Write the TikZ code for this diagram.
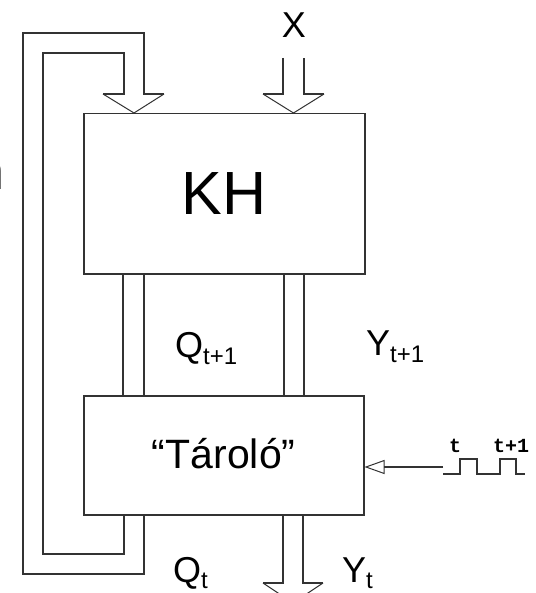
\documentclass[tikz,border=0pt]{standalone}
\usepackage{fontspec}
\setmainfont{Liberation Sans}
\newfontfamily\monofont{Liberation Mono}
\usetikzlibrary{arrows.meta}
\tikzset{
  ln/.style={draw=black!80, line width=1.5pt, line join=miter},
  head/.style={draw=black!80, line width=1pt},
  blk/.style={draw=black!80, line width=1.5pt, fill=white, inner sep=0pt, anchor=north west},
  lbl/.style={inner sep=0pt, anchor=base west, font=\fontsize{36}{40}\selectfont},
  clab/.style={inner sep=0pt, anchor=base, font=\monofont\bfseries\fontsize{20}{22}\selectfont},
}
\begin{document}
\begin{tikzpicture}[x=1pt,y=-1pt]
\useasboundingbox (0,0) rectangle (535,593);
\fill[white] (0,0) rectangle (535,593);
% blocks
\node[blk, minimum width=281pt, minimum height=160pt, font=\fontsize{61}{66}\selectfont] (kh) at (83,113) {KH};
\node[blk, minimum width=280pt, minimum height=119pt, font=\fontsize{41}{46}\selectfont] (tar) at (83,395) {\raisebox{3pt}{“Tároló”}};
% feedback bus (Q_t -> KH)
\coordinate (fbA) at (144,514);
\coordinate (fbB) at (124,514);
\coordinate (fbTip) at (134,113);
\draw[ln] (fbA) -- (144,574) -- (23,574) -- (23,33) -- (144,33) -- (144,94) -- (164,94);
\draw[head] (164,94) -- (fbTip) -- (103,94);
\draw[ln] (103,94) -- (124,94) -- (124,53) -- (43,53) -- (43,554) -- (124,554) -- (fbB);
% X input bus
\coordinate (xL) at (283,58);
\coordinate (xR) at (304,58);
\coordinate (xTip) at (293.5,113);
\draw[ln] (xL) -- (283,94) -- (263,94);
\draw[head] (263,94) -- (xTip) -- (324,94);
\draw[ln] (324,94) -- (304,94) -- (xR);
% Q_{t+1} and Y_{t+1} buses
\draw[ln] (kh.south west -| 123,0) -- (tar.north west -| 123,0);
\draw[ln] (kh.south west -| 144,0) -- (tar.north west -| 144,0);
\draw[ln] (kh.south west -| 284,0) -- (tar.north west -| 284,0);
\draw[ln] (kh.south west -| 304,0) -- (tar.north west -| 304,0);
% Y_t output bus
\coordinate (yTip) at (293,603);
\draw[ln] (tar.south west -| 283,0) -- (283,583) -- (263,583);
\draw[head] (263,583) -- (yTip) -- (323,583);
\draw[ln] (323,583) -- (303,583) -- (tar.south west -| 303,0);
% clock
\coordinate (clk) at (443,467);
\draw[black!80, line width=1.2pt, -{Triangle[open,length=20pt,width=14pt,line width=1pt]}] (clk) -- (tar.east |- clk);
\draw[black!80, line width=1.5pt] (443,474) -- (460,474) -- (460,459) -- (477,459) -- (477,474) -- (500,474) -- (500,459) -- (516,459) -- (516,474) -- (525,474);
\node[clab] (ct) at (455,452) {t};
\node[clab] (ct1) at (511,452) {t+1};
% labels
\node[inner sep=0pt, anchor=base, font=\fontsize{36}{40}\selectfont] (xl) at (294,38) {X};
\node[lbl] (q1) at (175,357) {Q\textsubscript{\fontsize{24}{26}\selectfont t+1}};
\node[lbl] (y1) at (366,355) {Y\textsubscript{\fontsize{24}{26}\selectfont t+1}};
\node[lbl] (qt) at (173,582) {Q\textsubscript{\fontsize{24}{26}\selectfont t}};
\node[lbl] (yt) at (342,582) {Y\textsubscript{\fontsize{24}{26}\selectfont t}};
\node[inner sep=0pt, anchor=base east, font=\fontsize{52}{56}\selectfont] (frag) at (5,190) {n};
\end{tikzpicture}
\end{document}
